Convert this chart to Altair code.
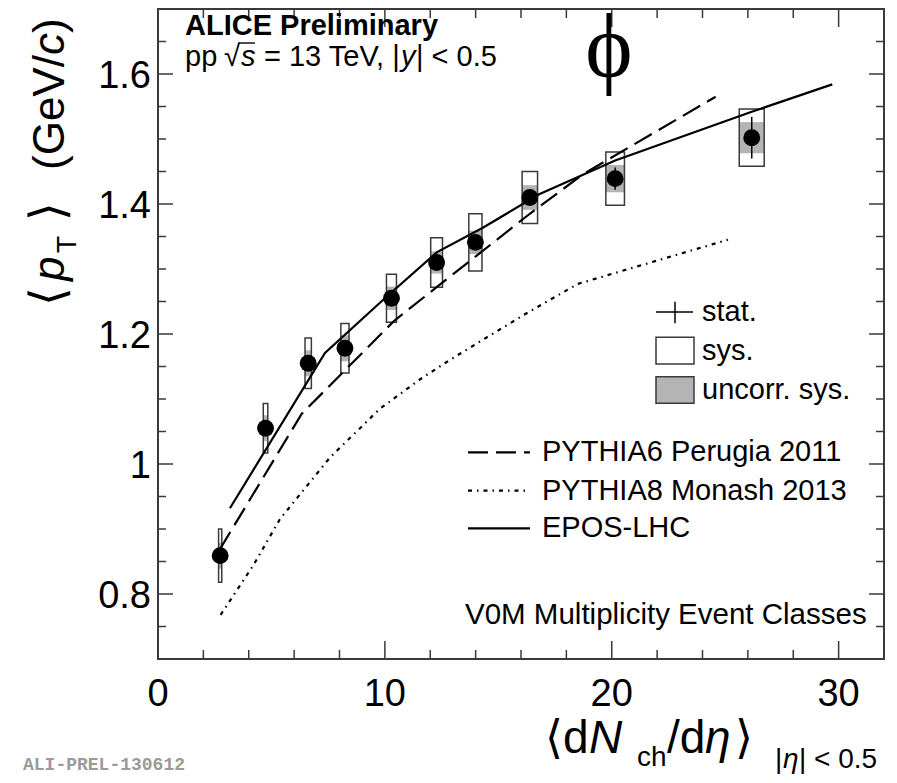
import altair as alt
import pandas as pd

# ---------------- data ----------------
dndeta = [2.74, 4.74, 6.62, 8.24, 10.29, 12.28, 13.99, 16.39, 20.15, 26.17]
mean_pt = [0.859, 1.055, 1.155, 1.178, 1.255, 1.310, 1.341, 1.410, 1.439, 1.502]
dndeta_err = [0.07, 0.10, 0.14, 0.18, 0.22, 0.26, 0.29, 0.34, 0.41, 0.55]
stat_err = [0.010, 0.010, 0.010, 0.010, 0.010, 0.010, 0.011, 0.012, 0.017, 0.032]
sys_err = [0.041, 0.038, 0.039, 0.038, 0.037, 0.038, 0.044, 0.040, 0.041, 0.044]
uncorr_err = [0.020, 0.020, 0.020, 0.020, 0.018, 0.017, 0.018, 0.019, 0.021, 0.024]

p6_x = [2.73, 6.33, 10.40, 12.28, 16.39, 18.74, 24.58]
p6_y = [0.869, 1.077, 1.220, 1.272, 1.385, 1.446, 1.565]

p8_x = [2.76, 4.20, 5.37, 7.58, 9.78, 11.54, 12.86, 14.50, 16.30, 18.50, 25.12]
p8_y = [0.768, 0.844, 0.915, 1.010, 1.085, 1.130, 1.160, 1.195, 1.233, 1.277, 1.345]

epos_x = [3.17, 7.36, 10.00, 12.30, 14.30, 16.80, 20.15, 26.17, 29.72]
epos_y = [0.932, 1.171, 1.255, 1.326, 1.363, 1.415, 1.467, 1.542, 1.584]

x_major = [0, 10, 20, 30]
x_labels = ["0", "10", "20", "30"]
x_minor = [2, 4, 6, 8, 12, 14, 16, 18, 22, 24, 26, 28]
y_major = [0.8, 1.0, 1.2, 1.4, 1.6]
y_labels = ["0.8", "1", "1.2", "1.4", "1.6"]
y_minor = [0.75, 0.85, 0.9, 0.95, 1.05, 1.1, 1.15, 1.25, 1.3, 1.35,
           1.45, 1.5, 1.55, 1.65]

# ---------------- layout ----------------
W, H = 726, 650
FONT = "Liberation Sans"
FRAME = "#3a3a3a"

xs = alt.Scale(domain=[0, 32], nice=False, zero=False)
ys = alt.Scale(domain=[0.7, 1.7], nice=False, zero=False)

pts = pd.DataFrame({"x": dndeta, "y": mean_pt, "ex": dndeta_err,
                    "st": stat_err, "sy": sys_err, "uc": uncorr_err})
pts["x_lo"] = pts.x - pts.ex
pts["x_hi"] = pts.x + pts.ex
pts["sy_lo"] = pts.y - pts.sy
pts["sy_hi"] = pts.y + pts.sy
pts["uc_lo"] = pts.y - pts.uc
pts["uc_hi"] = pts.y + pts.uc
pts["st_lo"] = pts.y - pts.st
pts["st_hi"] = pts.y + pts.st


def X(f):
    return alt.X(f, type="quantitative", scale=xs, axis=None)


def Y(f):
    return alt.Y(f, type="quantitative", scale=ys, axis=None)


gray_boxes = alt.Chart(pts).mark_rect(fill="#b4b4b4").encode(
    x=X("x_lo"), x2="x_hi", y=Y("uc_lo"), y2="uc_hi")
sys_boxes = alt.Chart(pts).mark_rect(fillOpacity=0, stroke=FRAME, strokeWidth=1.5).encode(
    x=X("x_lo"), x2="x_hi", y=Y("sy_lo"), y2="sy_hi")
stat_bars = alt.Chart(pts).mark_rule(color="black", strokeWidth=1.5).encode(
    x=X("x"), y=Y("st_lo"), y2="st_hi")
markers = alt.Chart(pts).mark_point(shape="circle", filled=True, size=285,
                                    color="black", opacity=1).encode(
    x=X("x"), y=Y("y"))


def model(xv, yv, dash=None):
    df = pd.DataFrame({"x": xv, "y": yv, "o": list(range(len(xv)))})
    kw = dict(color="black", strokeWidth=2.2)
    if dash is not None:
        kw["strokeDash"] = dash
    return alt.Chart(df).mark_line(**kw).encode(x=X("x"), y=Y("y"), order="o:Q")


p6_line = model(p6_x, p6_y, [20, 8])
p8_line = model(p8_x, p8_y, [4, 5, 1.5, 5])
epos_line = model(epos_x, epos_y)


def xticks(vals, length, top):
    df = pd.DataFrame({"v": vals})
    if top:
        yy, yy2 = alt.value(0), alt.value(length)
    else:
        yy, yy2 = alt.value(H), alt.value(H - length)
    return alt.Chart(df).mark_rule(color=FRAME, strokeWidth=1.5).encode(
        x=X("v"), y=yy, y2=yy2)


def yticks(vals, length, right):
    df = pd.DataFrame({"v": vals})
    if right:
        xx, xx2 = alt.value(W), alt.value(W - length)
    else:
        xx, xx2 = alt.value(0), alt.value(length)
    return alt.Chart(df).mark_rule(color=FRAME, strokeWidth=1.5).encode(
        y=Y("v"), x=xx, x2=xx2)


ticks = [xticks(x_major, 18, False), xticks(x_minor, 9, False),
         xticks(x_major, 18, True), xticks(x_minor, 9, True),
         yticks(y_major, 15, False), yticks(y_minor, 8, False),
         yticks(y_major, 15, True), yticks(y_minor, 8, True)]

# tick labels, placed through the scales
xlab = alt.Chart(pd.DataFrame({"v": x_major, "t": x_labels})).mark_text(
    font=FONT, fontSize=38, align="center", baseline="alphabetic", color="black"
).encode(x=X("v"), y=alt.value(H + 47), text="t:N")
ylab = alt.Chart(pd.DataFrame({"v": y_major, "t": y_labels})).mark_text(
    font=FONT, fontSize=38, align="right", baseline="alphabetic", dy=13.5,
    color="black"
).encode(y=Y("v"), x=alt.value(-7), text="t:N")

dummy = pd.DataFrame({"a": [0]})


def txt(s, x, y, size=29, style="normal", weight="normal", font=FONT,
        align="left", baseline="alphabetic", angle=0, color="black"):
    return alt.Chart(dummy).mark_text(
        text=s, fontSize=size, fontStyle=style, fontWeight=weight, font=font,
        align=align, baseline=baseline, angle=angle, color=color).encode(
        x=alt.value(x), y=alt.value(y))


def rule(x, x2, y, y2=None, dash=None, width=2.2, color="black"):
    kw = dict(color=color, strokeWidth=width)
    if dash is not None:
        kw["strokeDash"] = dash
    enc = dict(x=alt.value(x), x2=alt.value(x2), y=alt.value(y))
    if y2 is not None:
        enc["y2"] = alt.value(y2)
    return alt.Chart(dummy).mark_rule(**kw).encode(**enc)


def box(x, x2, y, y2, fill):
    if fill is None:
        m = alt.Chart(dummy).mark_rect(fillOpacity=0, stroke=FRAME, strokeWidth=1.5)
    else:
        m = alt.Chart(dummy).mark_rect(fill=fill, stroke=FRAME, strokeWidth=1.5)
    return m.encode(x=alt.value(x), x2=alt.value(x2), y=alt.value(y), y2=alt.value(y2))


legend = [
    rule(498, 535, 303, width=1.5),
    rule(517, 517, 292.7, 314.3, width=1.5),
    txt("stat.", 544, 303, baseline="middle"),
    box(498, 536, 328.3, 355, None),
    txt("sys.", 544, 341.7, baseline="middle"),
    box(498, 536, 367.7, 394.3, "#b4b4b4"),
    txt("uncorr. sys.", 544, 381, baseline="middle"),
    rule(310, 372, 443.3, dash=[20, 8]),
    txt("PYTHIA6 Perugia 2011", 384, 443.3, baseline="middle"),
    rule(310, 372, 481.7, dash=[4, 5, 1.5, 5]),
    txt("PYTHIA8 Monash 2013", 384, 481.7, baseline="middle"),
    rule(310, 372, 519.3),
    txt("EPOS-LHC", 384, 519.3, baseline="middle"),
    txt("V0M Multiplicity Event Classes", 307, 606, size=29.5, baseline="middle"),
]

labels = [
    txt("ALICE Preliminary", 27, 26, size=29, weight="bold"),
    txt("pp", 27, 57),
    txt("\u221a", 66, 57),
    rule(80, 97, 34, width=1.4),
    txt("s", 83, 57, style="italic"),
    txt("= 13 TeV, |", 106, 57),
    txt("y", 243, 57, style="italic"),
    txt("| < 0.5", 258, 57),
    txt("\u03d5", 451, 68, size=90, font="Liberation Serif", align="center"),
    txt("ALI-PREL-130612", -135, 761, size=18, font="Liberation Mono",
        weight="bold", color="#9a9a9a"),
]

# x axis title  <dN_ch/d eta>_{|eta|<0.5}
XB = 744
xtitle = [
    txt("\u27e8", 387, XB, size=46, font="DejaVu Sans"),
    txt("d", 405, XB, size=46),
    txt("N", 431, XB, size=46, style="italic"),
    txt("ch", 479, 757, size=28),
    txt("/d", 509, XB, size=46),
    txt("\u03b7", 547, XB, size=46, style="italic"),
    txt("\u27e9", 577, XB, size=46, font="DejaVu Sans"),
    txt("|", 617, 759, size=28),
    txt("\u03b7", 625, 759, size=28, style="italic"),
    txt("| < 0.5", 641, 759, size=28),
]

# y axis title  <p_T> (GeV/c), rotated
YB = -94
ytitle = [
    txt("\u27e8", YB, 297, size=48, font="DejaVu Sans", angle=270),
    txt("p", YB, 272, size=44, style="italic", angle=270),
    txt("T", YB + 12, 244, size=28, angle=270),
    txt("\u27e9", YB, 212, size=48, font="DejaVu Sans", angle=270),
    txt("(GeV/", YB, 161, size=44, angle=270),
    txt("c", YB, 46, size=44, style="italic", angle=270),
    txt(")", YB, 24, size=44, angle=270),
]

chart = alt.layer(
    gray_boxes, sys_boxes, p6_line, p8_line, epos_line, stat_bars, markers,
    *ticks, xlab, ylab, *legend, *labels, *xtitle, *ytitle
).properties(
    width=W, height=H,
    autosize=alt.AutoSizeParams(type="none"),
    padding={"left": 150, "top": 1, "right": 5, "bottom": 116},
).configure_view(stroke=FRAME, strokeWidth=2)

chart.save("out.html", embed_options={"renderer": "svg", "actions": False})
